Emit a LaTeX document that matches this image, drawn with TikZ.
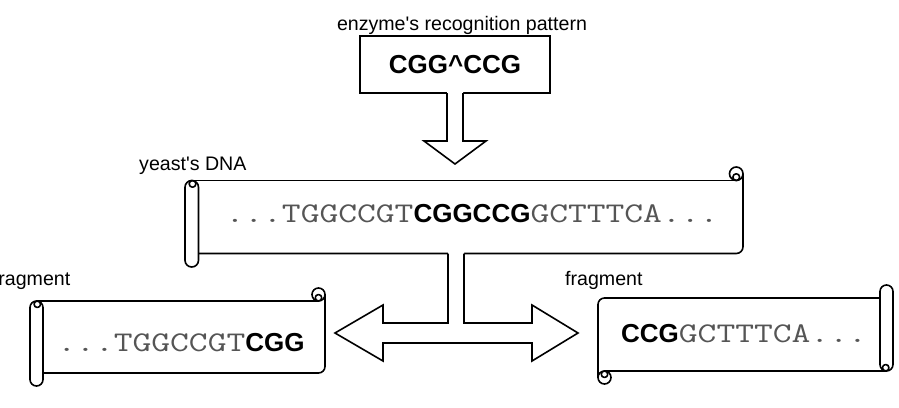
\documentclass[tikz,border=0pt]{standalone}
\usepackage{fontspec}
\setmainfont{Liberation Sans}
\usepackage{graphicx}
\usetikzlibrary{calc}
\definecolor{seqgray}{HTML}{555555}
\newcommand\seqmono[1]{{\ttfamily\fontsize{28.5}{30}\selectfont\color{seqgray}\scalebox{1.28}[1]{#1}}}
\newcommand\seqbold[1]{{\fontsize{26}{30}\selectfont\bfseries #1}}
\tikzset{
  scrollline/.style={line width=1.6pt, line join=round},
  blockarrow/.style={line width=1.6pt, line join=miter},
  lbl/.style={inner sep=0pt, font=\fontsize{19.6}{22}\selectfont},
}
\newcommand\drawscroll[3]{%
  \pgfmathsetmacro\scW{#1}%
  \pgfmathsetmacro\scH{#2}%
  \pgfmathsetmacro\scD{#3}%
  \pgfmathsetmacro\scR{#3/2}%
  \fill[white] (\scR,\scD) rectangle (\scW,\scH-\scD);
  \draw[scrollline] (\scR,\scD) -- (\scW-\scR,\scD);
  \draw[scrollline, rounded corners=\scR pt] (\scW,\scR) |- (\scD,\scH-\scD);
  \draw[scrollline, fill=white] (\scW-\scR,\scR) circle[radius=\scR];
  \draw[scrollline] (\scW-\scR,\scD*0.75) circle[radius=\scR/2];
  \draw[scrollline, fill=white, rounded corners=\scR pt] (0,\scD) rectangle (\scD,\scH);
  \draw[scrollline] (\scR+0.8,\scD+\scR/2) circle[radius=\scR/2];
}
\begin{document}
\begin{tikzpicture}[x=1pt, y=-1pt]
\useasboundingbox (0,0) rectangle (899,407);
\fill[white] (0,0) rectangle (899,407);

% scrolls
\begin{scope}[shift={(185,167)}]
  \drawscroll{558}{100}{13.5}
\end{scope}
\begin{scope}[shift={(30,288)}]
  \drawscroll{295}{98}{13}
\end{scope}
\begin{scope}[shift={(893,384)}, rotate=180]
  \drawscroll{295}{99}{13}
\end{scope}

% pattern box
\node[lbl, anchor=base] (patlbl) at (462,30) {enzyme\textquotesingle s recognition pattern};
\node[draw, line width=1.6pt, minimum width=190pt, minimum height=57pt, inner sep=0pt, outer sep=0pt] (pat) at (455,64.5) {\seqbold{CGG\textasciicircum CCG}};

% labels
\node[lbl, anchor=base west] (dnalbl) at (139,170) {yeast\textquotesingle s DNA};
\node[lbl, anchor=base east] (fragLlbl) at (70.5,285) {fragment};
\node[lbl, anchor=base west] (fragRlbl) at (565,285) {fragment};

% sequences
\node[anchor=base, inner sep=0pt] (dnaseq) at (472,222) {\seqmono{...TGGCCGT}\seqbold{CGGCCG}\seqmono{GCTTTCA...}};
\node[anchor=base, inner sep=0pt] (fragLseq) at (181,351) {\seqmono{...TGGCCGT}\seqbold{CGG}};
\node[anchor=base, inner sep=0pt] (fragRseq) at (744,342) {\seqbold{CCG}\seqmono{GCTTTCA...}};

% down arrow from pattern box
\fill[white] ($(pat.south)+(-8,-2)$) -- ++(0,50) -- ++(-23,0) -- ++(31,23) -- ++(31,-23) -- ++(-23,0) -- ++(0,-50) -- cycle;
\draw[blockarrow] ($(pat.south)+(-8,0)$) -- ++(0,48) -- ++(-23,0) -- ++(31,23) -- ++(31,-23) -- ++(-23,0) -- ++(0,-48);

% split double arrow
\coordinate (split) at (456,253.5);
\fill[white] ($(split)+(-8,-2)$) -- ++(0,71.5) -- ++(-65,0) -- ++(0,-18) -- ++(-48,28) -- ++(48,28) -- ++(0,-18) -- ++(149,0) -- ++(0,18) -- ++(46,-28) -- ++(-46,-28) -- ++(0,18) -- ++(-68,0) -- ++(0,-71.5) -- cycle;
\draw[blockarrow] ($(split)+(-8,0)$) -- ++(0,69.5) -- ++(-65,0) -- ++(0,-18) -- ++(-48,28) -- ++(48,28) -- ++(0,-18) -- ++(149,0) -- ++(0,18) -- ++(46,-28) -- ++(-46,-28) -- ++(0,18) -- ++(-68,0) -- ++(0,-69.5);
\end{tikzpicture}
\end{document}
